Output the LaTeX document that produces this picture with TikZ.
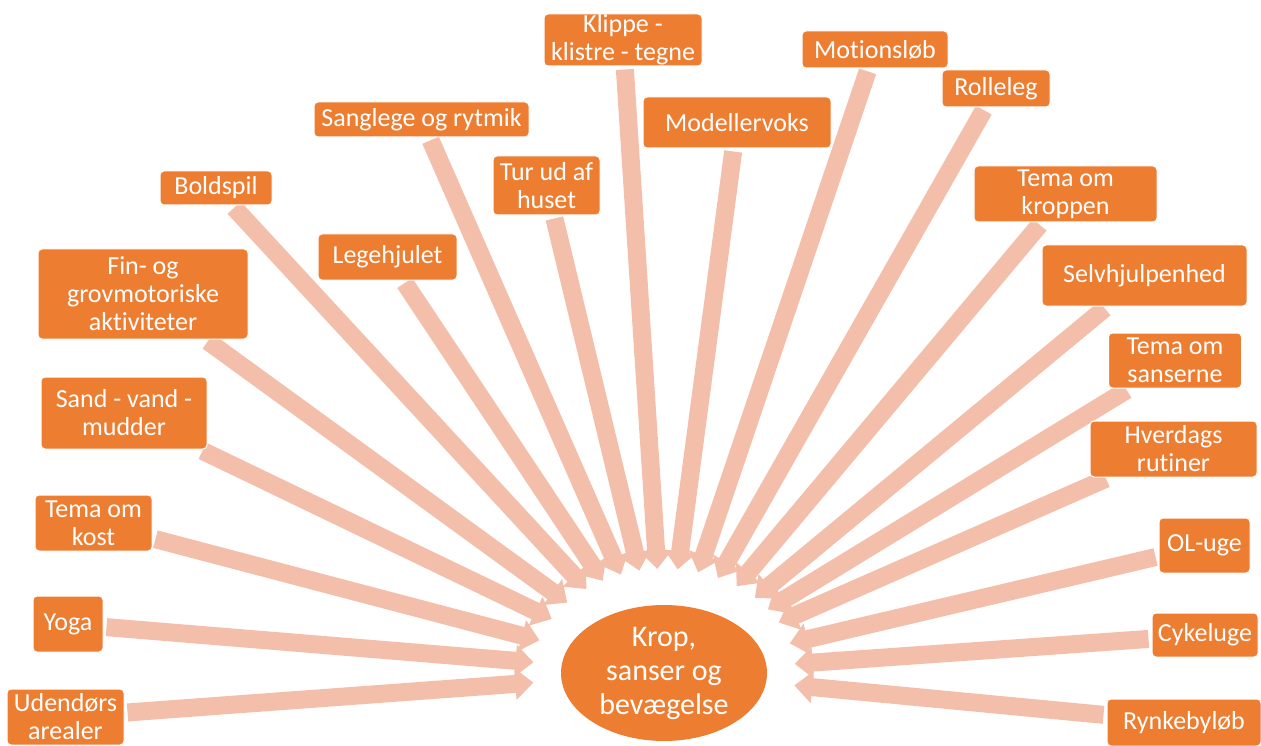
\documentclass[tikz,border=0pt]{standalone}
\usepackage{fontspec}
\setmainfont{Carlito}[Ligatures=NoCommon]
\usepackage{tikz}
\usetikzlibrary{arrows.meta}
\usetikzlibrary{shapes.geometric, backgrounds}
\usepackage{xcolor}
\definecolor{boxorange}{HTML}{ED7D31}
\definecolor{arrowpeach}{HTML}{F4BFAA}
\tikzset{
  topic/.style={draw=white, line width=1pt, rectangle, rounded corners=4pt, fill=boxorange, text=white, align=center, inner sep=0pt, font=\fontsize{26}{28}\selectfont},
  hub/.style={ellipse, fill=boxorange, text=white, align=center, inner sep=0pt, minimum width=206pt, minimum height=136pt, font=\fontsize{30}{34}\selectfont},
  halo/.style={ellipse, inner sep=0pt, minimum width=262pt, minimum height=208pt},
  feed/.style={draw=arrowpeach, line width=18pt, -{Triangle[length=18pt, width=31pt]}, shorten <=3pt}
}

\begin{document}
\begin{tikzpicture}[x=1pt, y=-1pt]
    \useasboundingbox (0,0) rectangle (1261,746);

    % Krop, sanser og bevaegelse
    \node[hub] (krop) at (664,673) {Krop,\\sanser og\\bevægelse};
    \node[halo] (ring) at (664,673) {};

    % Upper row
    \node[topic, minimum width=158pt, minimum height=52pt] (klippe) at (623,40) {Klippe -\\klistre - tegne};
    \node[topic, minimum width=146pt, minimum height=37pt] (motion) at (875,49.5) {Motionsløb};
    \node[topic, minimum width=108pt, minimum height=37pt] (rolle) at (996,88.5) {Rolleleg};
    \node[topic, minimum width=215pt, minimum height=35pt] (sang) at (421.5,119.5) {Sanglege og rytmik};
    \node[topic, minimum width=188pt, minimum height=51pt] (model) at (737,122.5) {Modellervoks};
    \node[topic, minimum width=107pt, minimum height=59pt] (tur) at (546.5,185.5) {Tur ud af\\huset};
    \node[topic, minimum width=112pt, minimum height=34pt] (bold) at (216,188) {Boldspil};
    \node[topic, minimum width=183pt, minimum height=56pt] (kroppen) at (1065.5,194) {Tema om\\kroppen};
    \node[topic, minimum width=139pt, minimum height=46pt] (hjul) at (387.5,257) {Legehjulet};

    % Left side
    \node[topic, minimum width=210pt, minimum height=90pt] (motorik) at (143,294) {Fin- og\\grovmotoriske\\aktiviteter};
    \node[topic, minimum width=166pt, minimum height=72pt] (sand) at (124,413) {Sand - vand -\\mudder};
    \node[topic, minimum width=117pt, minimum height=56pt] (kost) at (93.5,523) {Tema om\\kost};
    \node[topic, minimum width=70pt, minimum height=56pt] (yoga) at (68,624) {Yoga};
    \node[topic, minimum width=117pt, minimum height=56pt] (ude) at (65.5,717) {Udendørs\\arealer};

    % Right side
    \node[topic, minimum width=205pt, minimum height=61pt] (selv) at (1144.5,275.5) {Selvhjulpenhed};
    \node[topic, minimum width=133pt, minimum height=55pt] (sanser) at (1175,360.5) {Tema om\\sanserne};
    \node[topic, minimum width=167pt, minimum height=56pt] (hverdag) at (1173.5,449) {Hverdags\\rutiner};
    \node[topic, minimum width=91pt, minimum height=55pt] (ol) at (1204.5,545.5) {OL-uge};
    \node[topic, minimum width=106pt, minimum height=44pt] (cykel) at (1205,635) {Cykeluge};
    \node[topic, minimum width=154pt, minimum height=47pt] (rynke) at (1184,722.5) {Rynkebyløb};

    % Arrows to Krop
    \begin{scope}[on background layer]
        \draw[feed] (klippe) -- (ring);
        \draw[feed] (motion) -- (ring);
        \draw[feed] (rolle) -- (ring);
        \draw[feed] (sang) -- (ring);
        \draw[feed] (model) -- (ring);
        \draw[feed] (tur) -- (ring);
        \draw[feed] (bold) -- (ring);
        \draw[feed] (kroppen) -- (ring);
        \draw[feed] (hjul) -- (ring);
        \draw[feed] (motorik) -- (ring);
        \draw[feed] (sand) -- (ring);
        \draw[feed] (kost) -- (ring);
        \draw[feed] (yoga) -- (ring);
        \draw[feed] (ude) -- (ring);
        \draw[feed] (selv) -- (ring);
        \draw[feed] (sanser) -- (ring);
        \draw[feed] (hverdag) -- (ring);
        \draw[feed] (ol) -- (ring);
        \draw[feed] (cykel) -- (ring);
        \draw[feed] (rynke) -- (ring);
    \end{scope}
\end{tikzpicture}
\end{document}
